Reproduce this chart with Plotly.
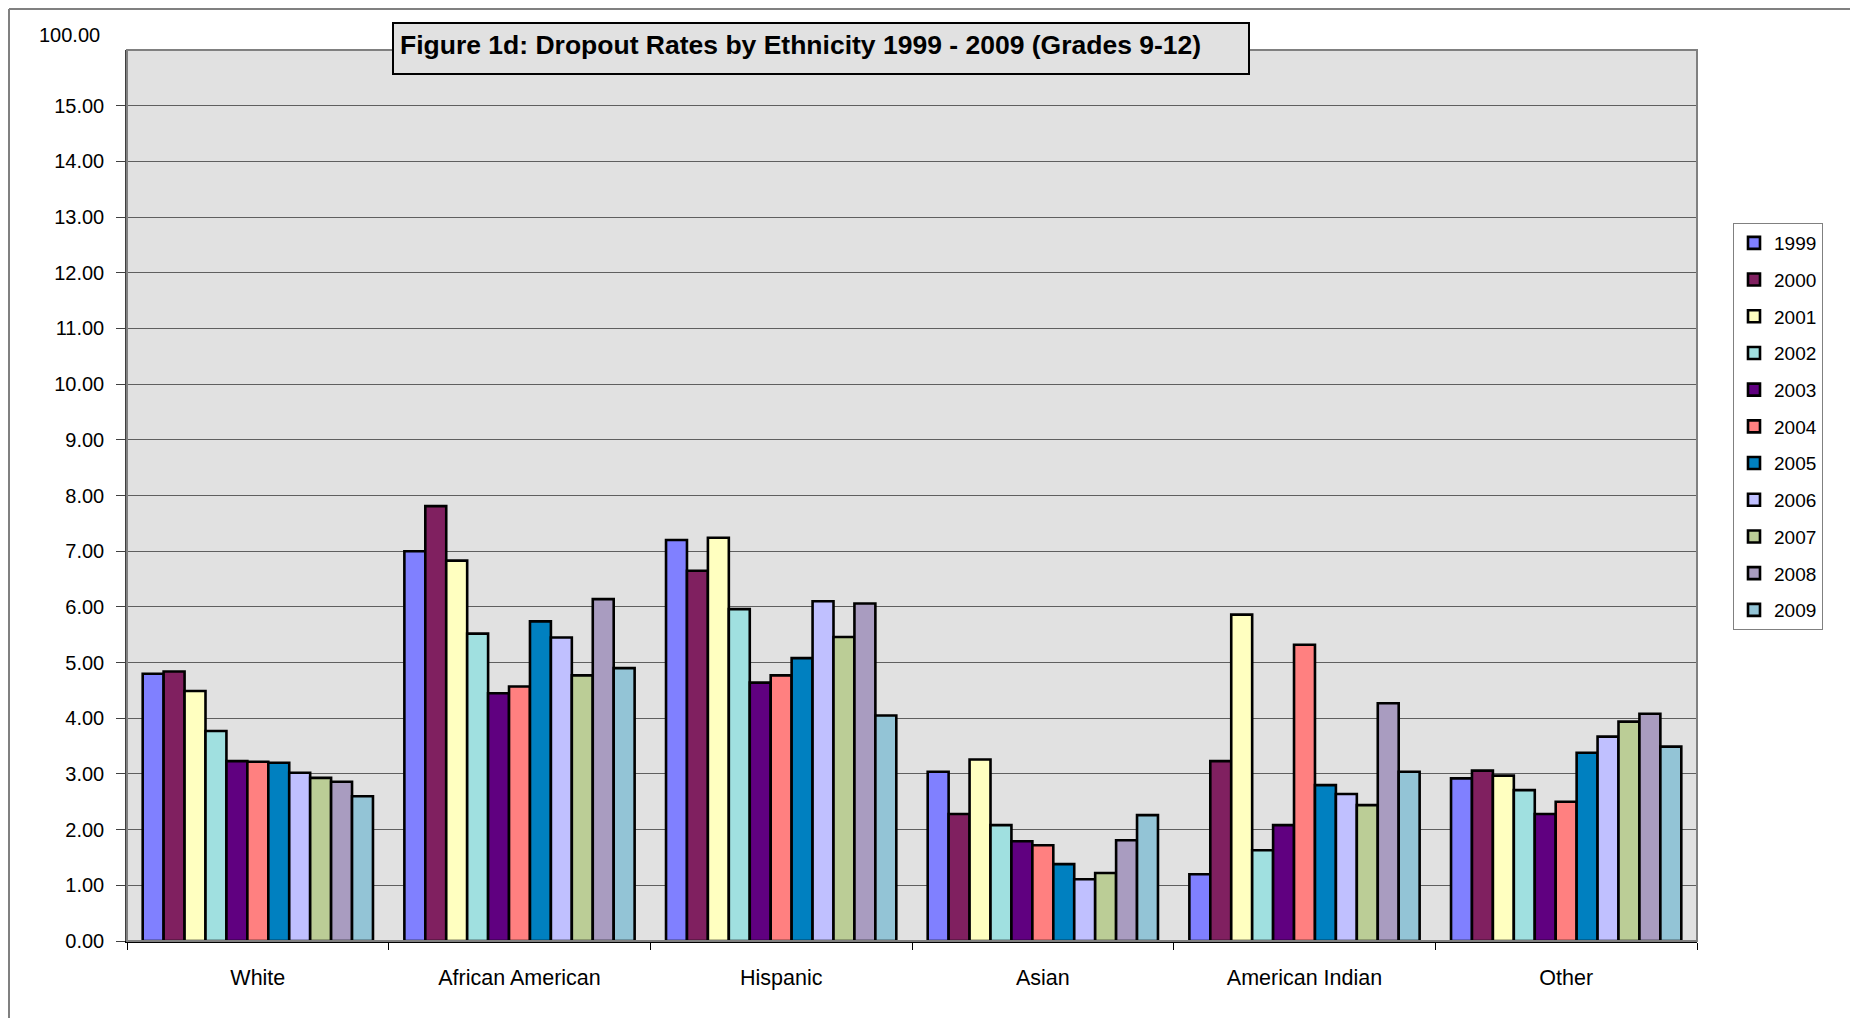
import plotly.graph_objects as go

categories = ["White", "African American", "Hispanic", "Asian", "American Indian", "Other"]
years = ["1999", "2000", "2001", "2002", "2003", "2004", "2005", "2006", "2007", "2008", "2009"]

white = [4.80, 4.84, 4.49, 3.77, 3.23, 3.22, 3.20, 3.02, 2.93, 2.86, 2.60]
african_american = [7.00, 7.81, 6.83, 5.52, 4.45, 4.57, 5.74, 5.45, 4.77, 6.14, 4.90]
hispanic = [7.20, 6.65, 7.24, 5.96, 4.64, 4.77, 5.08, 6.10, 5.46, 6.06, 4.05]
asian = [3.04, 2.28, 3.26, 2.08, 1.79, 1.72, 1.38, 1.11, 1.22, 1.81, 2.26]
american_indian = [1.20, 3.23, 5.86, 1.63, 2.08, 5.32, 2.80, 2.64, 2.44, 4.27, 3.04]
other = [2.92, 3.06, 2.97, 2.71, 2.28, 2.50, 3.38, 3.67, 3.94, 4.08, 3.49]

series_by_group = [white, african_american, hispanic, asian, american_indian, other]

colors = ["#8080FF", "#802060", "#FFFFC0", "#A0E0E0", "#600080", "#FF8080",
          "#0080C0", "#C0C0FF", "#BBCD96", "#A99CC0", "#93C4D6"]

y_tick_vals = list(range(0, 16))
top_label = "100.00"
title_text = "Figure 1d: Dropout Rates by Ethnicity 1999 - 2009 (Grades 9-12)"

FONT = "Arial, Liberation Sans, sans-serif"

fig = go.Figure()
for i, yr in enumerate(years):
    vals = [grp[i] for grp in series_by_group]
    fig.add_trace(go.Bar(
        x=categories, y=vals, name=yr, legendgroup=yr,
        marker=dict(color=colors[i], line=dict(color="#000000", width=2.6)),
    ))

# page offset of the figure div (body margin)
OFF = 8
W, H = 1858 - OFF, 1018 - OFF
# plot area in page pixels
L, R, T, B = 127, 1697, 50, 941
def px(x):
    return (x - L) / (R - L)
def py(y):
    return (B - y) / (B - T)

shapes = [
    dict(type="rect", xref="paper", yref="paper", x0=0, x1=1, y0=0, y1=1,
         line=dict(color="#808080", width=2), layer="above"),
    dict(type="rect", xref="paper", yref="paper", x0=px(393), x1=px(1249), y0=py(74), y1=py(23),
         line=dict(color="#000000", width=2), fillcolor="#E1E1E1", layer="above"),
    dict(type="line", xref="paper", yref="paper", x0=px(OFF + 1), x1=px(1856), y0=py(OFF + 1), y1=py(OFF + 1),
         line=dict(color="#808080", width=2)),
    dict(type="line", xref="paper", yref="paper", x0=px(OFF + 1), x1=px(OFF + 1), y0=py(OFF + 1), y1=py(1018),
         line=dict(color="#808080", width=2)),
    dict(type="line", xref="paper", yref="paper", x0=px(1856), x1=px(1856), y0=py(OFF), y1=py(1018),
         line=dict(color="#000000", width=2)),
]

annotations = [
    dict(text="<b>" + title_text + "</b>", xref="paper", yref="paper", x=px(398), y=py(45),
         xanchor="left", yanchor="middle", showarrow=False,
         font=dict(family=FONT, size=26.5, color="#000000")),
    dict(text=top_label, xref="paper", yref="paper", x=px(102), y=py(35),
         xanchor="right", yanchor="middle", showarrow=False,
         font=dict(family=FONT, size=20, color="#000000")),
]

fig.update_layout(
    width=W, height=H,
    margin=dict(l=L - OFF, r=W - (R - OFF), t=T - OFF, b=H - (B - OFF)),
    paper_bgcolor="#FFFFFF", plot_bgcolor="#E1E1E1",
    barmode="group", bargap=0.12, bargroupgap=0,
    showlegend=True,
    legend=dict(
        x=px(1733), y=py(223), xanchor="left", yanchor="top",
        bgcolor="#FFFFFF", bordercolor="#808080", borderwidth=1,
        font=dict(family=FONT, size=19, color="#000000"),
        tracegroupgap=9, traceorder="grouped", itemwidth=30,
    ),
    shapes=shapes, annotations=annotations,
    font=dict(family=FONT, color="#000000"),
)

fig.update_xaxes(
    type="category", tickson="boundaries", ticks="outside", ticklen=7, tickwidth=1,
    tickcolor="#000000", showline=True, linecolor="#000000", linewidth=2,
    tickfont=dict(family=FONT, size=21.5, color="#000000"), ticklabelstandoff=16,
    showgrid=False, zeroline=False,
)
fig.update_yaxes(
    range=[0, 16], tickvals=y_tick_vals, tickformat=".2f", ticks="outside", ticklen=9,
    tickcolor="#404040", tickwidth=1, showline=True, linecolor="#404040", linewidth=1.5,
    showgrid=True, gridcolor="#5F5F5F", gridwidth=1, zeroline=False,
    tickfont=dict(family=FONT, size=20, color="#000000"), ticklabelstandoff=8,
)

fig.write_html("out.html")
